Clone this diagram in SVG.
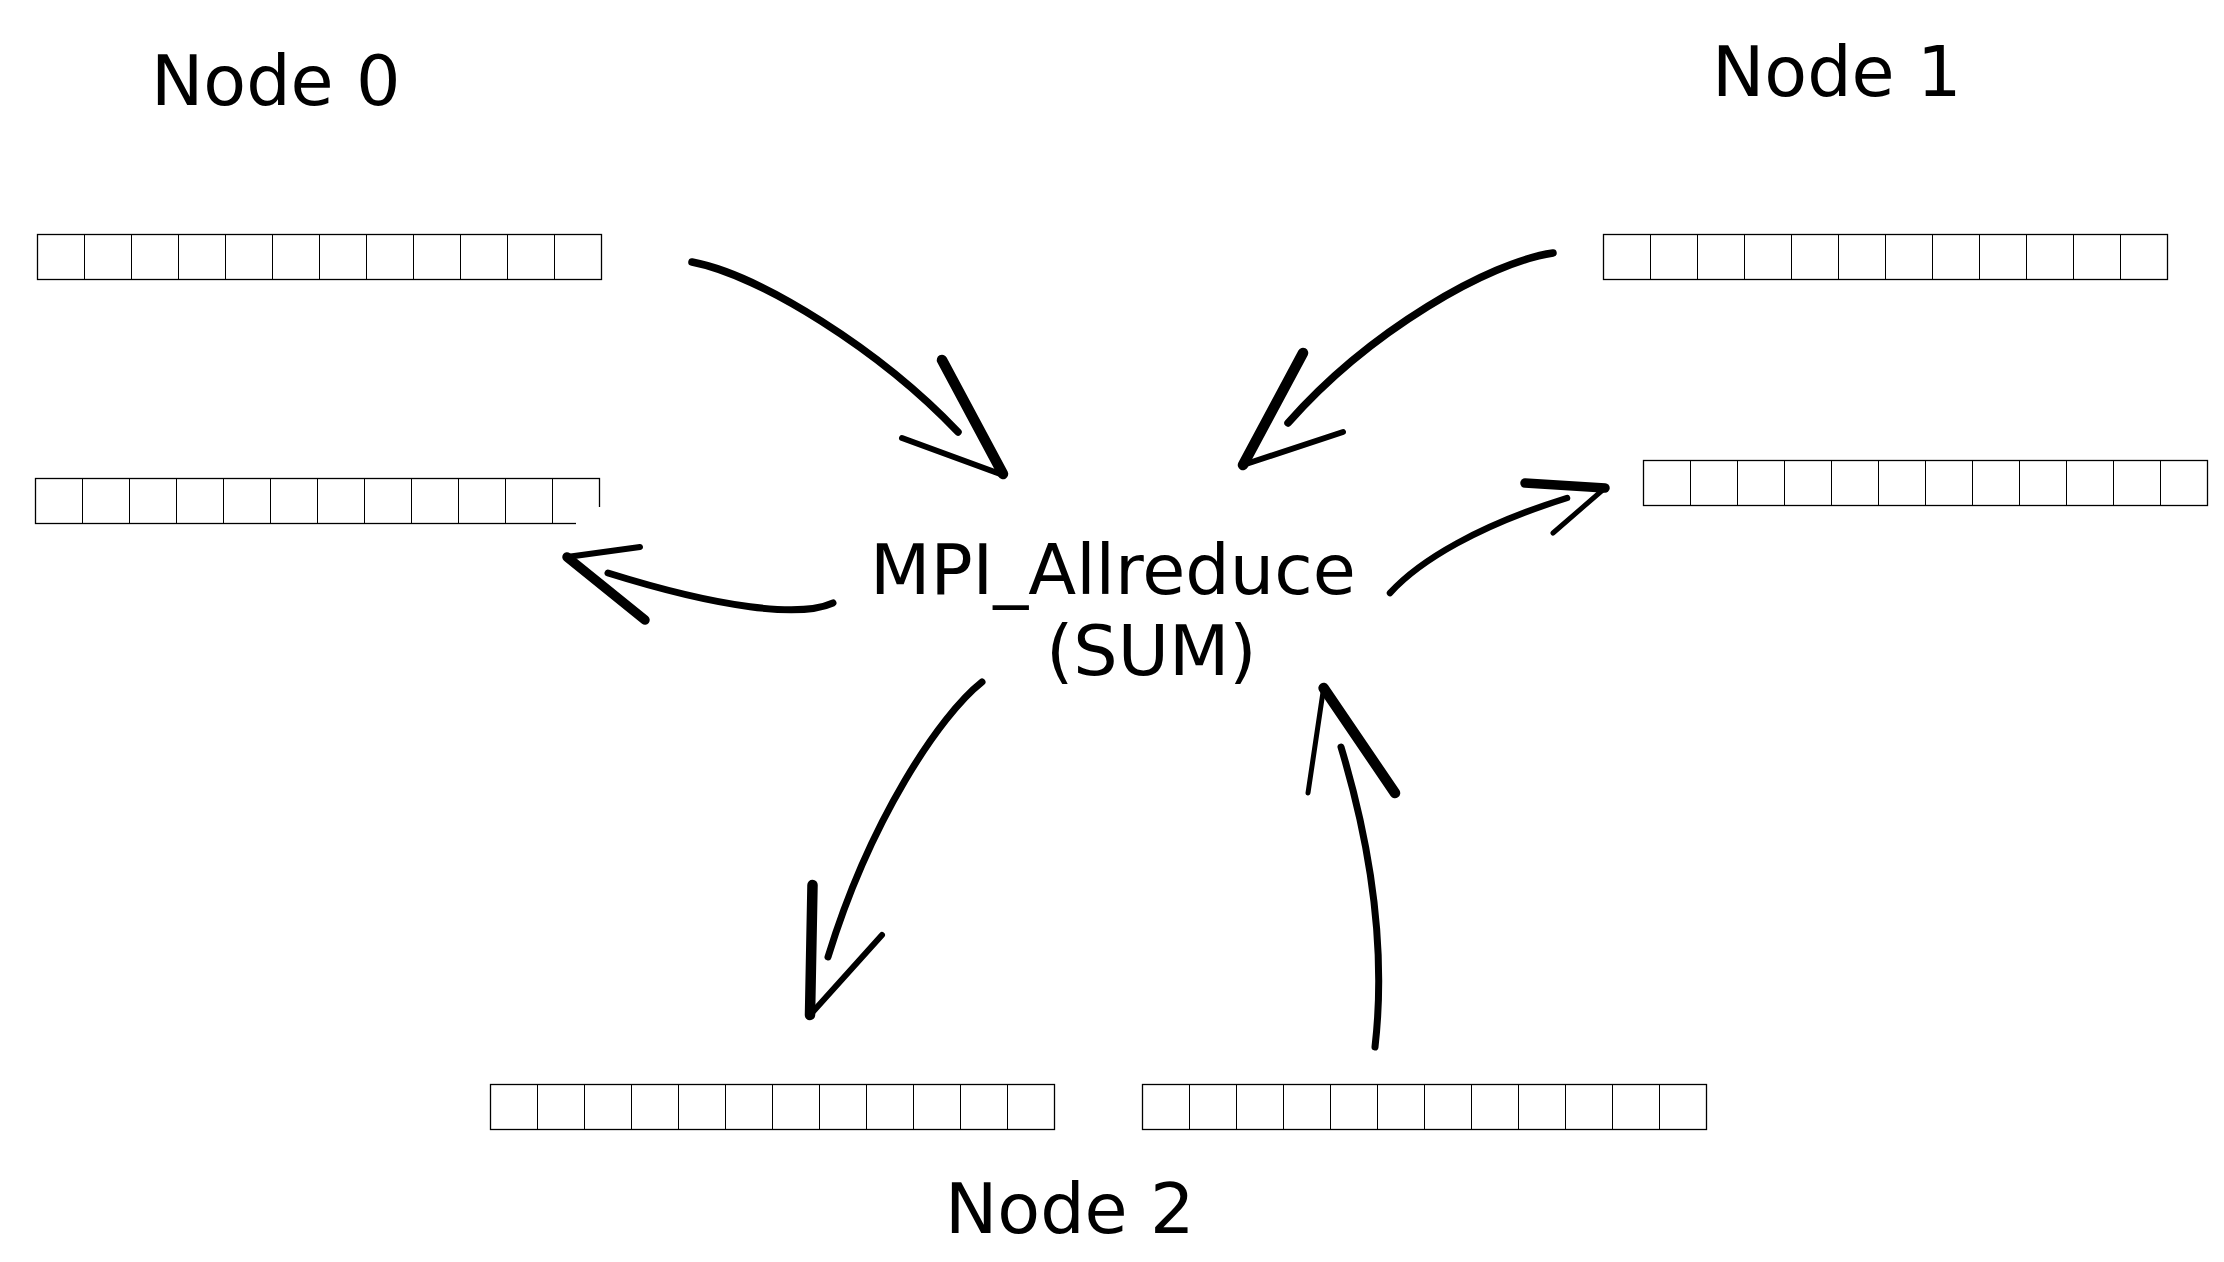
<svg xmlns="http://www.w3.org/2000/svg" xmlns:xlink="http://www.w3.org/1999/xlink" width="2224" height="1262" viewBox="0 0 2224 1262">
<style>
.lbl{font-family:"DejaVu Sans","Liberation Sans",sans-serif;font-size:70px;fill:#000}
.cell{fill:#fff;stroke:#000;stroke-width:1.3}
.div{fill:none;stroke:#000;stroke-width:1}
.stk{fill:none;stroke:#000;stroke-linecap:round;stroke-linejoin:round}
</style>
<defs>
<g id="arr">
<rect class="cell" x="0" y="0" width="564" height="45"/>
<path class="div" d="M47,0V45M94,0V45M141,0V45M188,0V45M235,0V45M282,0V45M329,0V45M376,0V45M423,0V45M470,0V45M517,0V45"/>
</g>
</defs>
<rect width="2224" height="1262" fill="#fff"/>
<g id="node0">
<text class="lbl" x="151" y="105">Node 0</text>
<use xlink:href="#arr" href="#arr" x="37.5" y="234.5"/>
<use xlink:href="#arr" href="#arr" x="35.5" y="478.5"/>
<polygon points="576,521 598,507 604,507 604,527 576,527" fill="#fff"/>
</g>
<g id="node1">
<text class="lbl" x="1712" y="96">Node 1</text>
<use xlink:href="#arr" href="#arr" x="1603.5" y="234.5"/>
<use xlink:href="#arr" href="#arr" x="1643.5" y="460.5"/>
</g>
<g id="node2">
<use xlink:href="#arr" href="#arr" x="490.5" y="1084.5"/>
<use xlink:href="#arr" href="#arr" x="1142.5" y="1084.5"/>
<text class="lbl" x="945" y="1233">Node 2</text>
</g>
<g id="center">
<text class="lbl" x="870" y="594">MPI_Allreduce</text>
<text class="lbl" x="1046" y="675">(SUM)</text>
</g>
<g id="connectors">
<path class="stk" stroke-width="7.5" d="M692,262 C760,275 880,350 958,432"/>
<path class="stk" stroke-width="10.5" d="M942,360 L1003,474"/>
<path class="stk" stroke-width="6" d="M902,438 L1003,475"/>
<path class="stk" stroke-width="7.5" d="M1553,253 C1490,262 1370,330 1288,423"/>
<path class="stk" stroke-width="10.5" d="M1303,353 L1243,465"/>
<path class="stk" stroke-width="6" d="M1343,432 L1243,465"/>
<path class="stk" stroke-width="7" d="M833,603 C800,618 720,608 608,573"/>
<path class="stk" stroke-width="6" d="M640,547 L567,557"/>
<path class="stk" stroke-width="9.5" d="M645,620 L567,557"/>
<path class="stk" stroke-width="6.5" d="M1390,593 C1420,560 1480,525 1567,498"/>
<path class="stk" stroke-width="9.5" d="M1525,483 L1605,488"/>
<path class="stk" stroke-width="5" d="M1605,488 L1553,533"/>
<path class="stk" stroke-width="7" d="M982,682 C940,715 870,820 828,957"/>
<path class="stk" stroke-width="10.5" d="M812.5,885 L810,1015"/>
<path class="stk" stroke-width="6" d="M882,935 L810,1015"/>
<path class="stk" stroke-width="7" stroke-linecap="butt" d="M1375,1047 C1385,960 1375,860 1341,747"/>
<path class="stk" stroke-width="10.5" d="M1323.6,688 L1395,793"/>
<path class="stk" stroke-width="5" d="M1323.6,688 L1308,793"/>
</g>
</svg>
